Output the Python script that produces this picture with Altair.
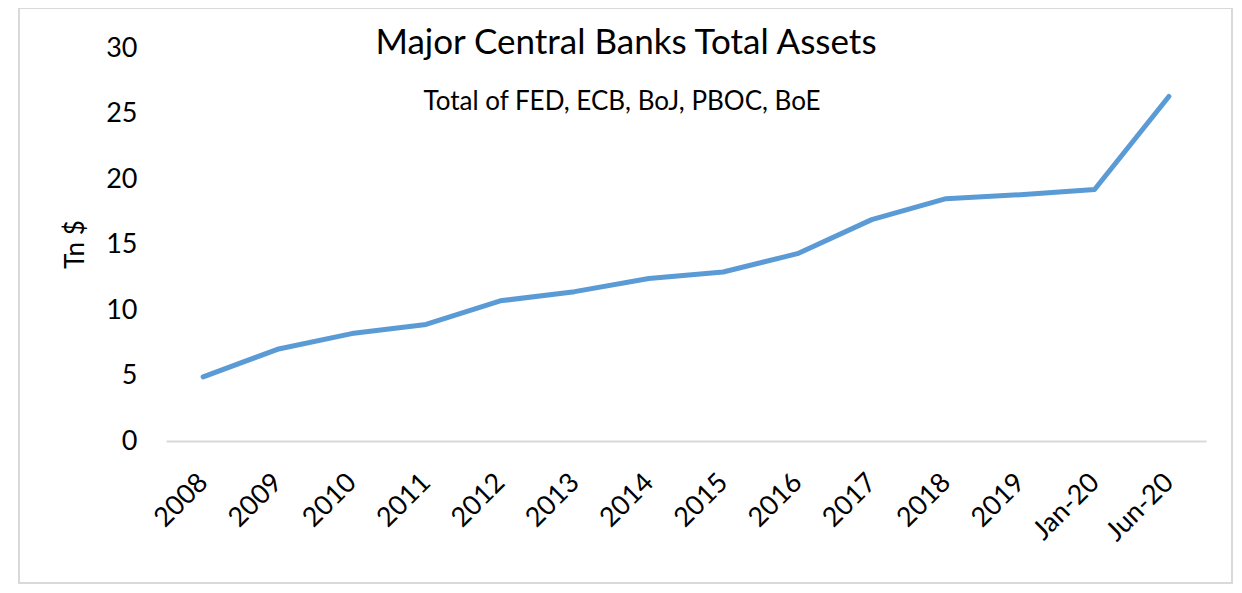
import altair as alt
import pandas as pd

categories = ["2008", "2009", "2010", "2011", "2012", "2013", "2014",
              "2015", "2016", "2017", "2018", "2019", "Jan-20", "Jun-20"]
assets = [4.9, 7.0, 8.2, 8.9, 10.7, 11.4, 12.4, 12.9, 14.3, 16.9, 18.5, 18.8, 19.2, 26.3]
y_ticks = [0, 5, 10, 15, 20, 25, 30]
title_text = "Major Central Banks Total Assets"
subtitle_text = "Total of FED, ECB, BoJ, PBOC, BoE"

df = pd.DataFrame({"period": categories, "assets": assets})

FONT = "Lato"
W, H = 1040, 393

x_enc = alt.X("period:N", sort=categories,
              scale=alt.Scale(type="point", padding=0.5),
              axis=alt.Axis(title=None, labelAngle=-45, labelAlign="right",
                            labelBaseline="middle", labelPadding=37,
                            labelFontSize=27, labelFont=FONT, labelColor="#000000",
                            ticks=False, domain=True, domainColor="#d9d9d9",
                            domainWidth=2, grid=False, labelOverlap=False))
y_enc = alt.Y("assets:Q", scale=alt.Scale(domain=[0, 30], nice=False),
              axis=alt.Axis(title="Tn $", values=y_ticks, ticks=False, domain=False,
                            grid=False, labelFontSize=27, labelFont=FONT,
                            labelColor="#000000", labelPadding=29,
                            titleFont=FONT, titleFontSize=26, titleFontWeight="normal",
                            titleColor="#000000", titleAngle=270, titleAlign="center",
                            titleBaseline="middle", titleX=-91, titleY=196))

line = alt.Chart(df).mark_line(color="#5b9bd5", strokeWidth=5,
                               strokeCap="round", strokeJoin="round").encode(x=x_enc, y=y_enc)

frame = alt.Chart(df).mark_rect(filled=False, stroke="#d9d9d9", strokeWidth=2).encode(
    x=alt.value(-147), x2=alt.value(1066), y=alt.value(-40), y2=alt.value(535))

title = alt.Chart(pd.DataFrame({"t": [title_text]})).mark_text(
    font=FONT, fontSize=35, color="#000000", align="center", baseline="alphabetic"
).encode(text="t:N", x=alt.value(460), y=alt.value(6))

subtitle = alt.Chart(pd.DataFrame({"t": [subtitle_text]})).mark_text(
    font=FONT, fontSize=26, color="#000000", align="center", baseline="alphabetic"
).encode(text="t:N", x=alt.value(456), y=alt.value(62))

chart = alt.layer(frame, line, title, subtitle).properties(
    width=W, height=H,
    background="white",
    autosize=alt.AutoSizeParams(type="none"),
    padding={"left": 158, "top": 40, "right": 28, "bottom": 144},
).configure_view(strokeWidth=0, stroke="transparent")

chart.save("out.html", embed_options={"renderer": "svg", "actions": False})
